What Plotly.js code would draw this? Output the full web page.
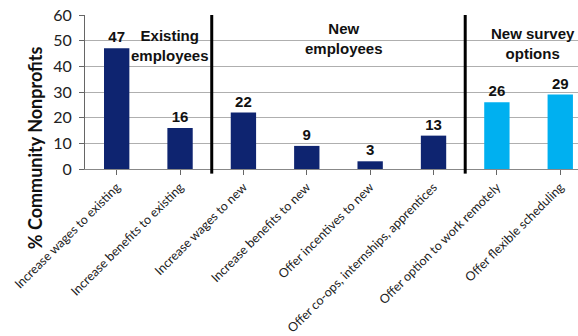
<!DOCTYPE html>
<html>
<head>
<meta charset="utf-8">
<script src="https://cdn.plot.ly/plotly-3.0.1.min.js"></script>
<style>html,body{margin:0;padding:0;background:#fff;overflow:hidden;}#chart{width:578px;height:336px;}</style>
</head>
<body>
<div id="chart"></div>
<script>
const categories = [
  "Increase wages to existing",
  "Increase benefits to existing",
  "Increase wages to new",
  "Increase benefits to new",
  "Offer incentives to new",
  "Offer co-ops, internships, apprentices",
  "Offer option to work remotely",
  "Offer flexible scheduling"
];
const values = [47, 16, 22, 9, 3, 13, 26, 29];
const groupIds = ["existing", "existing", "new", "new", "new", "new", "survey", "survey"];
const groupColors = {existing: "#0E2470", new: "#0E2470", survey: "#00B0F0"};
const groupLabels = [
  {text: "Existing<br>employees", x: 0.84, y: 0.80},
  {text: "New<br>employees", x: 3.59, y: 0.845},
  {text: "New survey<br>options", x: 6.57, y: 0.815}
];
const dividers = [1.5, 5.5];
const yTicks = [0, 10, 20, 30, 40, 50, 60];

const idx = categories.map((c, i) => i);

const trace = {
  type: "bar",
  x: idx,
  y: values,
  width: 0.4,
  marker: {color: groupIds.map(g => groupColors[g]), line: {width: 0}},
  text: values.map(String),
  textposition: "outside",
  textfont: {family: "Liberation Sans, Arial, sans-serif", size: 15, color: "#111", weight: "bold"},
  cliponaxis: false,
  hoverinfo: "skip"
};

const annotations = groupLabels.map(g => ({
  text: g.text, x: g.x, y: g.y, xref: "x", yref: "paper",
  showarrow: false, xanchor: "center", yanchor: "middle",
  font: {family: "Liberation Sans, Arial, sans-serif", size: 15, color: "#111", weight: "bold"}
}));
annotations.push({
  text: "% Community Nonprofits", xref: "paper", yref: "paper",
  x: -0.1, y: 0.14, textangle: -90, showarrow: false,
  xanchor: "center", yanchor: "middle",
  font: {family: "Lato, Liberation Sans, sans-serif", size: 18, color: "#111", weight: "bold"}
});

const shapes = dividers.map(d => ({
  type: "line", xref: "x", yref: "paper", x0: d, x1: d, y0: -0.03, y1: 1,
  line: {color: "#000", width: 3}
}));

const layout = {
  width: 578, height: 336,
  margin: {l: 85, r: 0, t: 15, b: 167, pad: 0},
  paper_bgcolor: "#fff", plot_bgcolor: "#fff",
  showlegend: false,
  bargap: 0.6,
  xaxis: {
    range: [-0.5, 7.28],
    tickmode: "array", tickvals: idx, ticktext: categories,
    tickangle: -45,
    tickson: "boundaries",
    ticks: "outside", ticklen: 5, tickcolor: "#666",
    showgrid: false, zeroline: false,
    showline: true, linecolor: "#888", linewidth: 1,
    tickfont: {family: "Lato, Carlito, sans-serif", size: 12.5, color: "#222"},
    fixedrange: true
  },
  yaxis: {
    range: [0, 60],
    tickmode: "array", tickvals: yTicks,
    ticks: "outside", ticklen: 5, tickcolor: "#666",
    ticklabelstandoff: 4,
    showgrid: true, gridcolor: "#AFAFAF", gridwidth: 1,
    zeroline: false,
    showline: true, linecolor: "#666", linewidth: 1,
    tickfont: {family: "Lato, Carlito, sans-serif", size: 16, color: "#222"},
    fixedrange: true
  },
  annotations: annotations,
  shapes: shapes
};

Plotly.newPlot("chart", [trace], layout, {displayModeBar: false, staticPlot: true});
</script>
</body>
</html>
